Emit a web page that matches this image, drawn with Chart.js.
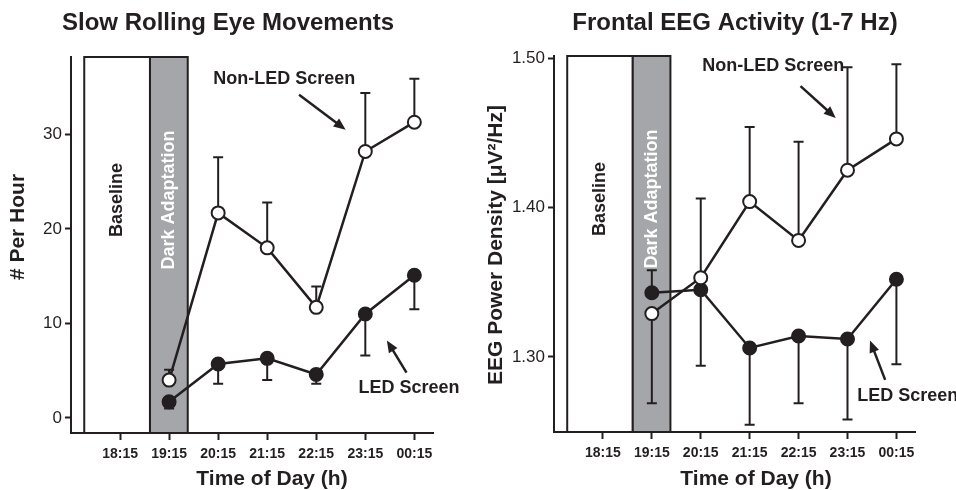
<!DOCTYPE html>
<html>
<head>
<meta charset="utf-8">
<script src="https://cdn.jsdelivr.net/npm/chart.js@4.4.1/dist/chart.umd.min.js"></script>
<style>
  html, body { margin: 0; padding: 0; background: #fff; }
  #wrap { position: relative; width: 956px; height: 490px; overflow: hidden; }
  #wrap canvas { position: absolute; top: 0; }
</style>
</head>
<body>
<div id="wrap">
  <canvas id="remChart" width="478" height="490" style="left:0;width:478px;height:490px"></canvas>
  <canvas id="eegChart" width="478" height="490" style="left:478px;width:478px;height:490px"></canvas>
</div>
<script>
// Zeitachse (Tick-Beschriftungen) und Messzeitpunkte
const timeLabels = ['18:15', '19:15', '20:15', '21:15', '22:15', '23:15', '00:15'];
const pointTimes = ['19:15', '20:15', '21:15', '22:15', '23:15', '00:15'];

// Phasen vor der Messung (in Stunden-Index der Zeitachse)
const phaseNames = ['Baseline', 'Dark Adaptation'];
const phaseStart = [-0.73, 0.61];
const phaseEnd = [0.61, 1.38];

// Slow Rolling Eye Movements (# per hour)
const remNonLed = [4.0, 21.7, 18.0, 11.7, 28.2, 31.3];
const remNonLedErr = [5.1, 27.6, 22.8, 13.9, 34.4, 35.9];
const remLed = [1.7, 5.7, 6.3, 4.6, 11.0, 15.1];
const remLedErr = [1.0, 3.6, 4.0, 3.6, 6.6, 11.5];
const remTicks = [0, 10, 20, 30];

// Frontal EEG 1-7 Hz
const eegNonLed = [1.329, 1.353, 1.404, 1.378, 1.425, 1.446];
const eegNonLedErr = [1.269, 1.406, 1.454, 1.444, 1.494, 1.496];
const eegLed = [1.343, 1.345, 1.306, 1.314, 1.312, 1.352];
const eegLedErr = [1.358, 1.294, 1.2545, 1.269, 1.258, 1.295];
const eegTicks = [1.30, 1.40, 1.50];

const FONT = "'Liberation Sans', Arial, Helvetica, sans-serif";
const INK = '#231f20';

function toPoints(values) {
    return values.map((v, i) => ({ x: timeLabels.indexOf(pointTimes[i]), y: v }));
}

function drawArrow(ctx, x0, y0, x1, y1) {
    const ang = Math.atan2(y1 - y0, x1 - x0);
    const head = 12, half = 5;
    ctx.beginPath();
    ctx.moveTo(x0, y0);
    ctx.lineTo(x1 - Math.cos(ang) * head * 0.8, y1 - Math.sin(ang) * head * 0.8);
    ctx.stroke();
    ctx.beginPath();
    ctx.moveTo(x1, y1);
    ctx.lineTo(x1 - Math.cos(ang) * head + Math.sin(ang) * half, y1 - Math.sin(ang) * head - Math.cos(ang) * half);
    ctx.lineTo(x1 - Math.cos(ang) * head - Math.sin(ang) * half, y1 - Math.sin(ang) * head + Math.cos(ang) * half);
    ctx.closePath();
    ctx.fill();
}

// Phasen, Fehlerbalken, Titel und Beschriftungen
const decorPlugin = {
    id: 'decor',
    beforeDatasetsDraw(chart, args, opts) {
        const { ctx, chartArea: a, scales: { x, y } } = chart;
        ctx.save();
        ctx.lineWidth = 2;
        ctx.strokeStyle = INK;
        phaseNames.forEach((name, i) => {
            const x0 = x.getPixelForValue(phaseStart[i]);
            const x1 = x.getPixelForValue(phaseEnd[i]);
            ctx.fillStyle = i === 0 ? '#ffffff' : '#a5a6a9';
            ctx.fillRect(x0, a.top, x1 - x0, a.bottom - a.top);
            ctx.strokeRect(x0, a.top, x1 - x0, a.bottom - a.top);
            ctx.save();
            ctx.translate((x0 + x1) / 2, a.top + 143);
            ctx.rotate(-Math.PI / 2);
            ctx.font = 'bold 18px ' + FONT;
            ctx.fillStyle = i === 0 ? INK : '#ffffff';
            ctx.textAlign = 'center';
            ctx.textBaseline = 'middle';
            ctx.fillText(name, 0, 0);
            ctx.restore();
        });

        // Fehlerbalken (einseitig)
        ctx.lineWidth = 2;
        opts.errors.forEach(set => {
            set.values.forEach((v, i) => {
                const px = x.getPixelForValue(timeLabels.indexOf(pointTimes[i]));
                const py0 = y.getPixelForValue(v);
                const py1 = y.getPixelForValue(set.ends[i]);
                ctx.beginPath();
                ctx.moveTo(px, py0);
                ctx.lineTo(px, py1);
                ctx.moveTo(px - 5, py1);
                ctx.lineTo(px + 5, py1);
                ctx.stroke();
            });
        });
        ctx.restore();
    },
    afterDraw(chart, args, opts) {
        const { ctx, chartArea: a, scales: { x, y } } = chart;
        ctx.save();
        ctx.fillStyle = INK;
        ctx.strokeStyle = INK;
        ctx.textBaseline = 'middle';

        ctx.font = 'bold 24px ' + FONT;
        ctx.textAlign = 'center';
        ctx.fillText(opts.title, opts.titleX, 23);

        ctx.font = 'bold 21px ' + FONT;
        ctx.fillText('Time of Day (h)', opts.xTitleX, 479);

        ctx.save();
        ctx.translate(opts.yTitleX, opts.yTitleY);
        ctx.rotate(-Math.PI / 2);
        ctx.font = 'bold 21px ' + FONT;
        ctx.fillText(opts.yTitle, 0, 0);
        ctx.restore();

        ctx.font = 'bold 18px ' + FONT;
        ctx.textAlign = 'left';
        ctx.lineWidth = 2.5;
        opts.notes.forEach(n => {
            ctx.fillText(n.text, x.getPixelForValue(n.at[0]), y.getPixelForValue(n.at[1]));
            drawArrow(ctx,
                x.getPixelForValue(n.from[0]), y.getPixelForValue(n.from[1]),
                x.getPixelForValue(n.to[0]), y.getPixelForValue(n.to[1]));
        });
        ctx.restore();
    }
};

function lineSet(label, values, fill) {
    return {
        label: label,
        data: toPoints(values),
        borderColor: INK,
        borderWidth: 2.5,
        pointRadius: 6.5,
        pointBorderWidth: 2,
        pointBorderColor: INK,
        pointBackgroundColor: fill,
        clip: false
    };
}

function makeChart(id, cfg) {
    const ctx = document.getElementById(id).getContext('2d');
    return new Chart(ctx, {
        type: 'line',
        data: {
            datasets: [
                lineSet('Non-LED Screen', cfg.nonLed, '#ffffff'),
                lineSet('LED Screen', cfg.led, INK)
            ]
        },
        plugins: [decorPlugin],
        options: {
            responsive: false,
            animation: false,
            events: [],
            layout: { padding: { left: 0, top: cfg.top, right: 478 - cfg.right, bottom: 0 } },
            plugins: {
                legend: { display: false },
                tooltip: { enabled: false },
                decor: {
                    title: cfg.title, titleX: cfg.titleX,
                    yTitle: cfg.yTitle, yTitleX: cfg.yTitleX, yTitleY: cfg.yTitleY,
                    xTitleX: cfg.xTitleX,
                    errors: [
                        { values: cfg.nonLed, ends: cfg.nonLedErr },
                        { values: cfg.led, ends: cfg.ledErr }
                    ],
                    notes: cfg.notes
                }
            },
            scales: {
                x: {
                    type: 'linear',
                    min: -1,
                    max: 6.38,
                    afterBuildTicks: s => { s.ticks = timeLabels.map((_, i) => ({ value: i })); },
                    afterFit: s => { s.height = 490 - cfg.bottom; },
                    grid: { drawOnChartArea: false, tickLength: 7, tickWidth: 2, tickColor: INK },
                    border: { color: INK, width: 2 },
                    ticks: {
                        autoSkip: false, maxRotation: 0, padding: 6, color: INK,
                        font: { family: FONT, size: 14, weight: 'bold' },
                        callback: v => timeLabels[v]
                    }
                },
                y: {
                    min: cfg.yMin,
                    max: cfg.yMax,
                    afterBuildTicks: s => { s.ticks = cfg.ticks.map(v => ({ value: v })); },
                    afterFit: s => { s.width = cfg.left; },
                    grid: { drawOnChartArea: false, tickLength: 6, tickWidth: 2, tickColor: INK },
                    border: { color: INK, width: 2 },
                    ticks: {
                        padding: 3, color: INK,
                        font: { family: FONT, size: 17 },
                        callback: cfg.tickFmt
                    }
                }
            }
        }
    });
}

makeChart('remChart', {
    title: 'Slow Rolling Eye Movements', titleX: 228,
    yTitle: '# Per Hour', yTitleX: 18, yTitleY: 227, xTitleX: 272,
    left: 71, right: 433, top: 57, bottom: 433,
    yMin: -1.6, yMax: 38.2, ticks: remTicks, tickFmt: v => String(v),
    nonLed: remNonLed, nonLedErr: remNonLedErr, led: remLed, ledErr: remLedErr,
    notes: [
        { text: 'Non-LED Screen', at: [1.9, 35.9], from: [3.65, 34.2], to: [4.6, 30.5] },
        { text: 'LED Screen', at: [4.86, 3.2], from: [5.84, 4.8], to: [5.44, 8.2] }
    ]
});

makeChart('eegChart', {
    title: 'Frontal EEG Activity (1-7 Hz)', titleX: 257,
    yTitle: 'EEG Power Density [\u03bcV\u00b2/Hz]', yTitleX: 18, yTitleY: 245, xTitleX: 278,
    left: 76, right: 437, top: 56, bottom: 432,
    yMin: 1.2497, yMax: 1.5015, ticks: eegTicks, tickFmt: v => v.toFixed(2),
    nonLed: eegNonLed, nonLedErr: eegNonLedErr, led: eegLed, ledErr: eegLedErr,
    notes: [
        { text: 'Non-LED Screen', at: [2.03, 1.4946], from: [4.04, 1.4813], to: [4.76, 1.460] },
        { text: 'LED Screen', at: [5.2, 1.2739], from: [5.77, 1.2846], to: [5.46, 1.311] }
    ]
});
</script>
</body>
</html>
